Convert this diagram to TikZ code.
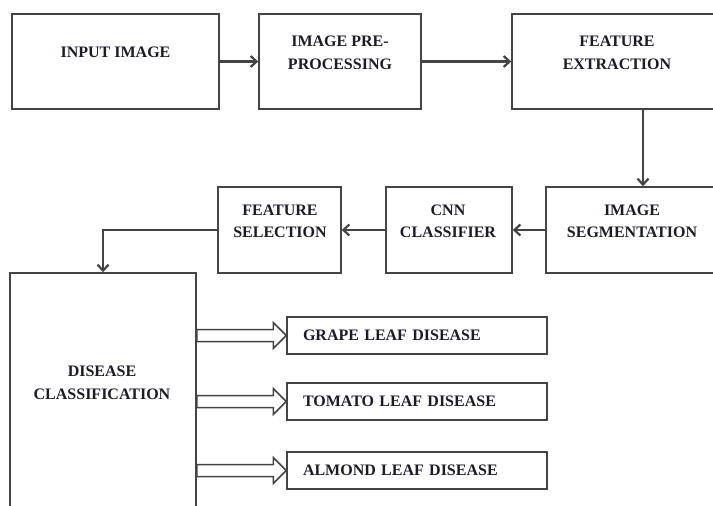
\documentclass[tikz,border=0pt]{standalone}
\usepackage{fontspec}
\setmainfont{Liberation Serif}
\usetikzlibrary{arrows.meta,calc}
\definecolor{ln}{HTML}{444444}
\definecolor{tx}{HTML}{1C1C28}
\tikzset{
 box/.style={draw=ln, line width=1.5pt, rectangle, inner sep=0pt},
 lbl/.style={text=tx, font=\bfseries\fontsize{16}{22.5}\selectfont, align=center, inner sep=0pt},
 leaf/.style={box, minimum height=37pt, text width=228pt, align=left, inner xsep=16pt, text=tx, font=\bfseries\fontsize{16}{22.5}\selectfont},
 arr/.style={draw=ln, line width=2.2pt, -{Straight Barb[length=6pt,width=11pt]}},
 blk/.style={draw=ln, line width=1.5pt, fill=white, line join=miter},
}
\begin{document}
\begin{tikzpicture}[x=1pt,y=-1pt]
\useasboundingbox (0,0) rectangle (713,506);
\fill[white] (0,0) rectangle (713,506);
\clip (0,0) rectangle (713,506);
% boxes
\node[box, minimum width=207pt, minimum height=95pt] (in)  at (115.5,61.5) {};
\node[box, minimum width=162pt, minimum height=95pt] (pre) at (340,61.5) {};
\node[box, minimum width=210pt, minimum height=95pt] (fe)  at (617,61.5) {};
\node[box, minimum width=172pt, minimum height=86pt] (seg) at (632,230) {};
\node[box, minimum width=126pt, minimum height=86pt] (cnn) at (449,230) {};
\node[box, minimum width=123pt, minimum height=86pt] (fs)  at (279.5,230) {};
\node[box, minimum width=186pt, minimum height=242pt] (dc) at (103,394) {};
\node[leaf] (g) at (417,335.5) {GRAPE LEAF DISEASE};
\node[leaf] (t) at (417,401.5) {TOMATO LEAF DISEASE};
\node[leaf] (a) at (417,470.5) {ALMOND LEAF DISEASE};
% labels
\node[lbl] (inL)  at (115.5,52) {INPUT IMAGE};
\node[lbl] (preL) at (340,53) {IMAGE PRE-\\PROCESSING};
\node[lbl] (feL)  at (617,53) {FEATURE\\EXTRACTION};
\node[lbl] (segL) at (632,221.5) {IMAGE\\SEGMENTATION};
\node[lbl] (cnnL) at (448,221.5) {CNN\\CLASSIFIER};
\node[lbl] (fsL)  at (280,221.5) {FEATURE\\SELECTION};
\node[lbl] (dcL)  at (102,383) {DISEASE\\CLASSIFICATION};
% connectors
\draw[arr] (in.east) -- (pre.west);
\draw[arr] (pre.east) -- (fe.west);
\draw[arr] ([xshift=26pt]fe.south) -- ([xshift=26pt]fe.south |- seg.north);
\draw[arr] (seg.west) -- (cnn.east);
\draw[arr] (cnn.west) -- (fs.east);
\draw[arr] (fs.west) -| (dc.north);
% hollow block arrows
\foreach \n in {g,t,a}{
 \draw[blk] ($(dc.east|-\n.west)+(0,-6)$) -- ($(\n.west)+(-13,-6)$) -- ($(\n.west)+(-13,-13)$) -- (\n.west) -- ($(\n.west)+(-13,13)$) -- ($(\n.west)+(-13,6)$) -- ($(dc.east|-\n.west)+(0,6)$) -- cycle;
}
\end{tikzpicture}
\end{document}
